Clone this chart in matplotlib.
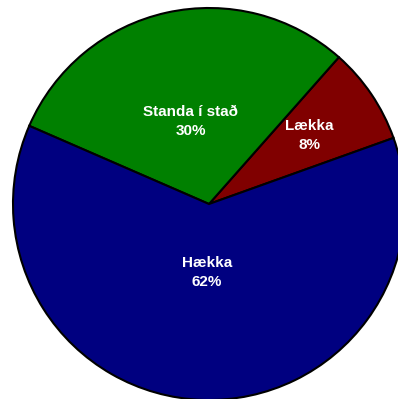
import numpy as np
import matplotlib
matplotlib.use('Agg')
import matplotlib.pyplot as plt

# gögn
flokkar = ['Lækka', 'Standa í stað', 'Hækka']
hlutfall = [8, 30, 62]
litir = ['#800000', '#008000', '#000080']
merki_fjarlaegd = [0.62, 0.43, 0.35]

plt.rcParams['font.family'] = ['Liberation Sans', 'DejaVu Sans']

fig = plt.figure(figsize=(3.98, 3.99), dpi=100)
ax = fig.add_axes([0, 0, 1, 1])

wedges, _ = ax.pie(hlutfall, colors=litir, startangle=19.7, counterclock=True,
                   radius=1.0, wedgeprops=dict(edgecolor='black', linewidth=1.5))

for w, nafn, pct, d in zip(wedges, flokkar, hlutfall, merki_fjarlaegd):
    mid = np.deg2rad((w.theta1 + w.theta2) / 2)
    ax.text(d * np.cos(mid), d * np.sin(mid), f'{nafn}\n{pct}%',
            ha='center', va='center', color='white', fontsize=11,
            fontweight='bold', linespacing=1.45)

# miðja kökunnar í pixlum (209, 204), radíus 196
r_px = 196.0
ax.set_aspect('auto')
ax.set_xlim(-209 / r_px, (398 - 209) / r_px)
ax.set_ylim(-(399 - 204) / r_px, 204 / r_px)
ax.axis('off')

fig.savefig('out.png', dpi=100)
plt.close(fig)
